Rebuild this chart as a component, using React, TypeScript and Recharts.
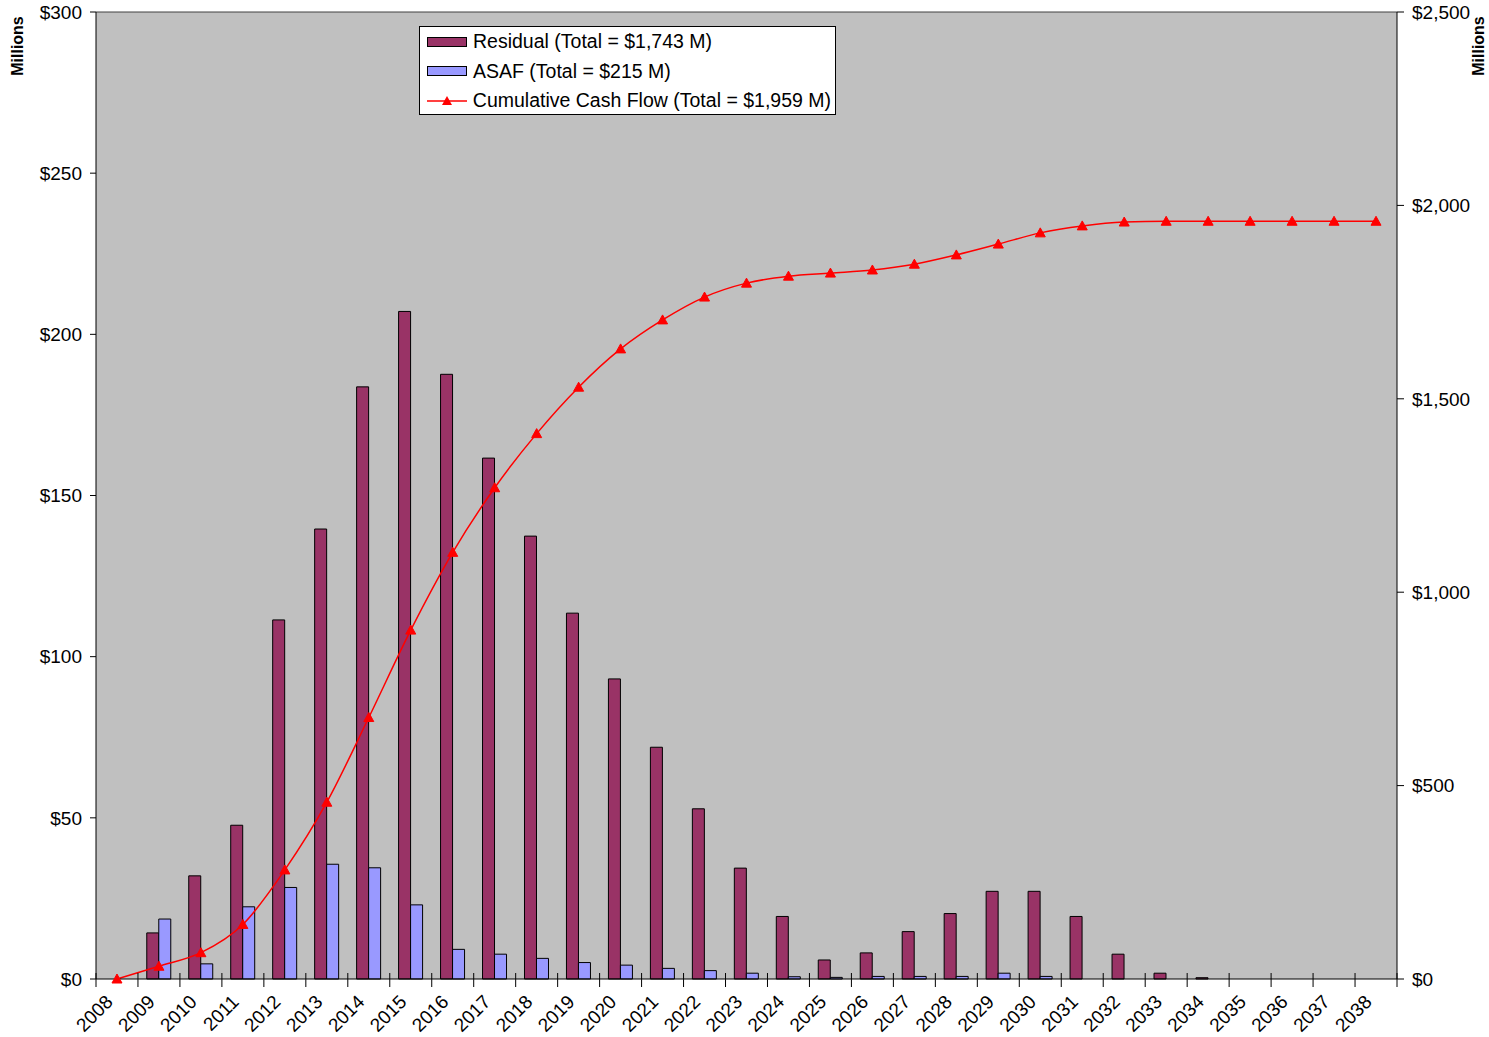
import React from "react";
import {
  ComposedChart,
  Bar,
  Line,
  XAxis,
  YAxis,
  CartesianGrid,
  Legend,
  ReferenceLine,
} from "recharts";

const years = [
  "2008", "2009", "2010", "2011", "2012", "2013", "2014", "2015", "2016", "2017",
  "2018", "2019", "2020", "2021", "2022", "2023", "2024", "2025", "2026", "2027",
  "2028", "2029", "2030", "2031", "2032", "2033", "2034", "2035", "2036", "2037",
  "2038",
];

// $ millions, left axis
const residual = [
  0, 14.3, 32, 47.7, 111.4, 139.6, 183.7, 207.1, 187.6, 161.6,
  137.4, 113.5, 93.1, 71.9, 52.8, 34.4, 19.4, 5.9, 8.1, 14.7,
  20.3, 27.2, 27.2, 19.4, 7.7, 1.8, 0.4, 0, 0, 0,
  0,
];

const asaf = [
  0, 18.6, 4.7, 22.4, 28.4, 35.6, 34.5, 23, 9.2, 7.7,
  6.4, 5.1, 4.3, 3.3, 2.6, 1.8, 0.7, 0.5, 0.8, 0.8,
  0.8, 1.8, 0.8, 0, 0, 0, 0, 0, 0, 0,
  0,
];

// $ millions, right axis
const cumulative = [
  0, 33, 68, 141, 282, 457, 676, 902, 1103, 1270,
  1410, 1530, 1629, 1704, 1763, 1799, 1817, 1825, 1833, 1848,
  1872, 1900, 1929, 1947, 1957, 1959, 1959, 1959, 1959, 1959,
  1959,
];

const leftTicks = [0, 50, 100, 150, 200, 250, 300];
const rightTicks = [0, 500, 1000, 1500, 2000, 2500];

const legendItems = [
  { label: "Residual (Total = $1,743 M)", kind: "bar", color: "#993366" },
  { label: "ASAF (Total = $215 M)", kind: "bar", color: "#9999FF" },
  { label: "Cumulative Cash Flow (Total = $1,959 M)", kind: "line", color: "#FF0000" },
];

const data = years.map((year, i) => ({
  year,
  residual: residual[i],
  asaf: asaf[i],
  cumulative: cumulative[i],
}));

const W = 1489;
const H = 1037;
const LEFT_W = 96;
const RIGHT_W = 92;
const TOP = 12;
const X_H = 58;
const FONT = "'Liberation Sans', Arial, Helvetica, sans-serif";
const halfBand = (W - LEFT_W - RIGHT_W) / years.length / 2;

const Triangle = (props: any) => {
  const { cx, cy } = props;
  if (cx == null || cy == null) return null;
  return (
    <polygon
      points={`${cx},${cy - 5} ${cx - 5},${cy + 4} ${cx + 5},${cy + 4}`}
      fill="#FF0000"
      stroke="#FF0000"
    />
  );
};

const YearTick = (props: any) => {
  const { x, y, payload, index } = props;
  const last = index === years.length - 1;
  const ax = x - 3;
  const ay = y + 24;
  return (
    <g>
      <line x1={x - halfBand} x2={x - halfBand} y1={y - 6} y2={y + 8} stroke="#000" />
      {last && (
        <line x1={x + halfBand} x2={x + halfBand} y1={y - 6} y2={y + 8} stroke="#000" />
      )}
      <text
        x={ax}
        y={ay}
        transform={`rotate(-45, ${ax}, ${ay})`}
        textAnchor="end"
        fontSize={19}
        fontFamily={FONT}
        fill="#000"
      >
        {payload.value}
      </text>
    </g>
  );
};

const LegendBox = () => (
  <div
    style={{
      boxSizing: "border-box",
      width: 417,
      height: 89,
      background: "#fff",
      border: "1px solid #000",
      padding: "0px 4px 0px 7px",
      fontFamily: FONT,
      fontSize: 19.5,
      lineHeight: "29.5px",
      color: "#000",
      whiteSpace: "nowrap",
    }}
  >
    {legendItems.map((it) => (
      <div key={it.label} style={{ display: "flex", alignItems: "center" }}>
        <svg width={40} height={12} style={{ marginRight: 6 }}>
          {it.kind === "bar" ? (
            <rect x={0.5} y={1.5} width={39} height={9} fill={it.color} stroke="#000" />
          ) : (
            <g>
              <line x1={0} x2={40} y1={6} y2={6} stroke={it.color} strokeWidth={1.5} />
              <polygon points="20,1 15,10 25,10" fill={it.color} />
            </g>
          )}
        </svg>
        <span>{it.label}</span>
      </div>
    ))}
  </div>
);

export default function App() {
  return (
    <div
      style={{
        position: "absolute",
        left: 0,
        top: 0,
        width: W,
        height: H,
        overflow: "hidden",
        background: "#fff",
        fontFamily: FONT,
      }}
    >
      <ComposedChart
        width={W}
        height={H}
        data={data}
        margin={{ top: TOP, right: 0, left: 0, bottom: 0 }}
        barGap={0}
        barCategoryGap="21%"
      >
        <CartesianGrid fill="#C0C0C0" horizontal={false} vertical={false} />
        <XAxis
          dataKey="year"
          height={X_H}
          interval={0}
          tickLine={false}
          tickSize={0}
          tickMargin={0}
          axisLine={{ stroke: "#000" }}
          tick={<YearTick />}
        />
        <YAxis
          yAxisId="left"
          width={LEFT_W}
          domain={[0, 300]}
          ticks={leftTicks}
          interval={0}
          tickSize={6}
          tickMargin={8}
          axisLine={{ stroke: "#000" }}
          tickLine={{ stroke: "#000" }}
          tick={{ fill: "#000", fontSize: 19, fontFamily: FONT }}
          tickFormatter={(v: number) => `$${v}`}
        />
        <YAxis
          yAxisId="right"
          orientation="right"
          width={RIGHT_W}
          domain={[0, 2500]}
          ticks={rightTicks}
          interval={0}
          tickSize={7}
          tickMargin={8}
          axisLine={{ stroke: "#000" }}
          tickLine={{ stroke: "#000" }}
          tick={{ fill: "#000", fontSize: 19, fontFamily: FONT }}
          tickFormatter={(v: number) => `$${v.toLocaleString("en-US")}`}
        />
        <ReferenceLine yAxisId="left" y={300} stroke="#404040" />
        <Legend
          layout="horizontal"
          verticalAlign="middle"
          align="center"
          content={<LegendBox />}
          wrapperStyle={{ left: 419, top: 26, width: 417, height: 89 }}
        />
        <Bar
          yAxisId="left"
          dataKey="residual"
          fill="#993366"
          stroke="#000"
          strokeWidth={1}
          isAnimationActive={false}
        />
        <Bar
          yAxisId="left"
          dataKey="asaf"
          fill="#9999FF"
          stroke="#000"
          strokeWidth={1}
          isAnimationActive={false}
        />
        <Line
          yAxisId="right"
          dataKey="cumulative"
          type="monotone"
          stroke="#FF0000"
          strokeWidth={1.5}
          dot={<Triangle />}
          activeDot={false}
          isAnimationActive={false}
        />
      </ComposedChart>
      <div
        style={{
          position: "absolute",
          left: 18,
          top: 46,
          transform: "translate(-50%, -50%) rotate(-90deg)",
          fontWeight: "bold",
          fontSize: 16,
          whiteSpace: "nowrap",
        }}
      >
        Millions
      </div>
      <div
        style={{
          position: "absolute",
          left: 1479,
          top: 46,
          transform: "translate(-50%, -50%) rotate(-90deg)",
          fontWeight: "bold",
          fontSize: 16,
          whiteSpace: "nowrap",
        }}
      >
        Millions
      </div>
    </div>
  );
}
